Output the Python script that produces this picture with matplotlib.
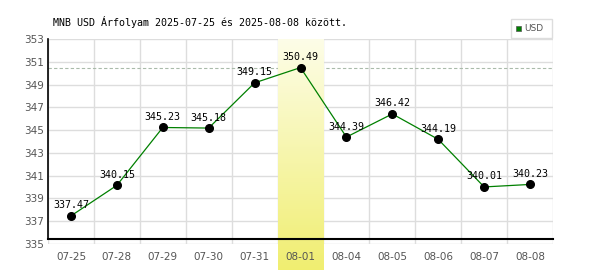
import numpy as np
import matplotlib
matplotlib.use('Agg')
import matplotlib.pyplot as plt
from matplotlib.patches import Rectangle

# data
dates = ['07-25', '07-28', '07-29', '07-30', '07-31', '08-01',
         '08-04', '08-05', '08-06', '08-07', '08-08']
rates = [337.47, 340.15, 345.23, 345.18, 349.15, 350.49,
         344.39, 346.42, 344.19, 340.01, 340.23]
highlight = '08-01'
y_ticks = list(range(335, 354, 2))
title = 'MNB USD Árfolyam 2025-07-25 és 2025-08-08 között.'

fig = plt.figure(figsize=(6, 2.7), dpi=100)
ax = fig.add_axes([48 / 600, 1 - 244 / 270, 505 / 600, 205 / 270])
ax.set_axisbelow(False)

x = np.arange(len(dates))
ax.set_xlim(-0.5, len(dates) - 0.5)
ax.set_ylim(335, 353)

# grid
grid_c = '#dddddd'
for v in y_ticks:
    ax.axhline(v, color=grid_c, lw=1, zorder=1)
for i in range(len(dates) + 1):
    ax.axvline(i - 0.5, color=grid_c, lw=1, zorder=1)

# max dashed line
ax.axhline(max(rates), color='#aabbaa', lw=0.8, ls=(0, (3, 2)), zorder=1.5)

# highlighted day band with gradient, running down past the axis
hi = dates.index(highlight)
grad = np.linspace(0, 1, 256).reshape(-1, 1)
cmap = matplotlib.colors.LinearSegmentedColormap.from_list('band', ['#fdfde8', '#f0ee70'])
ax.imshow(grad, extent=(hi - 0.5, hi + 0.5, 332.6, 353), origin='upper', aspect='auto',
          cmap=cmap, zorder=2, clip_on=False)

# axis lines
base = 335.47
ax.plot([-0.5, -0.5], [base, 353], color='black', lw=1.2, zorder=3, clip_on=False)
ax.plot([-0.5, len(dates) - 0.5], [base, base], color='black', lw=1.5, zorder=3, clip_on=False)

# series
ax.plot(x, rates, color='#008000', lw=0.9, zorder=4)
ax.plot(x, rates, 'o', color='black', ms=5.5, zorder=5)
for xi, r in zip(x, rates):
    ax.annotate(f'{r:.2f}', (xi, r), xytext=(0, 4), textcoords='offset points',
                ha='center', va='bottom', family='DejaVu Sans Mono', fontsize=7.2,
                color='black', zorder=6)

for s in ax.spines.values():
    s.set_visible(False)
ax.set_xticks(x)
ax.set_xticklabels(dates)
ax.set_yticks(y_ticks)
ax.tick_params(length=0, labelsize=7.5, colors='#555555', pad=3)
ax.tick_params(axis='x', pad=6)

fig.text(53 / 600, 1 - 22 / 270, title, family='DejaVu Sans Mono', fontsize=7.2,
         va='center', ha='left', color='black')

# legend box
fig.patches.append(Rectangle((511 / 600, 1 - 38 / 270), 41 / 600, 19 / 270,
                             transform=fig.transFigure, facecolor='white',
                             edgecolor='#dddddd', lw=1))
fig.patches.append(Rectangle((516 / 600, 1 - 31 / 270), 5 / 600, 5 / 270,
                             transform=fig.transFigure, facecolor='#008000',
                             edgecolor='#555555', lw=0.5))
fig.text(524 / 600, 1 - 28.5 / 270, 'USD', fontsize=6.5, color='#555555',
         va='center', ha='left')

fig.savefig('out.png', dpi=100)
